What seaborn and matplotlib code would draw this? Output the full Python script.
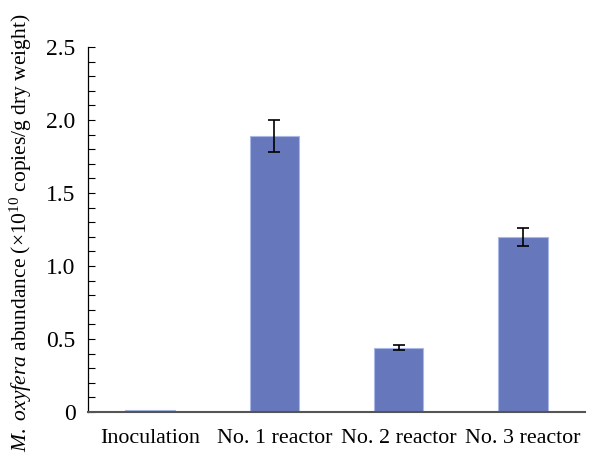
import matplotlib
matplotlib.use("Agg")
import matplotlib.pyplot as plt
import seaborn as sns
import pandas as pd
import numpy as np
from matplotlib.ticker import MultipleLocator

categories = ["Inoculation", "No. 1 reactor", "No. 2 reactor", "No. 3 reactor"]
values = [0.015, 1.89, 0.44, 1.20]
errors = [0.0, 0.11, 0.017, 0.06]
yticks = [0, 0.5, 1.0, 1.5, 2.0, 2.5]
ytick_labels = ["0", "0.5", "1.0", "1.5", "2.0", "2.5"]

sns.set_theme(style="white")
plt.rcParams["font.family"] = ["Liberation Serif", "DejaVu Serif"]
plt.rcParams["mathtext.fontset"] = "custom"
plt.rcParams["mathtext.rm"] = "Liberation Serif"
plt.rcParams["mathtext.it"] = "Liberation Serif:italic"

df = pd.DataFrame({"cat": categories, "val": values})

fig = plt.figure(figsize=(5.93, 4.61), dpi=100)
ax = fig.add_axes([88/593, 49/461, 497/593, 365/461])

sns.barplot(data=df, x="cat", y="val", ax=ax, color="#6777BC", saturation=1,
            width=0.4, errorbar=None, edgecolor="#A9B8E6", linewidth=0.8)
ax.errorbar(np.arange(len(categories))[1:], values[1:], yerr=errors[1:], fmt="none",
            ecolor="black", elinewidth=1.2, capsize=4, capthick=1.2)

ax.set_xlim(-0.5, 3.5)
ax.set_ylim(0, 2.5)
ax.set_yticks(yticks)
ax.set_yticklabels(ytick_labels)
ax.yaxis.set_minor_locator(MultipleLocator(0.1))
ax.tick_params(axis="y", which="both", direction="in", length=5, width=0.8,
               left=True, labelsize=17, pad=9, colors="black")
ax.tick_params(axis="x", length=0, labelsize=15.8, pad=12, colors="black")
ax.set_xlabel("")
ax.set_ylabel(r"$\mathit{M.\ oxyfera}$ abundance (×10$^{10}$ copies/g dry weight)",
              fontsize=15.5, color="black")
ax.yaxis.set_label_coords(-0.108, 0.49)

for s in ["top", "right"]:
    ax.spines[s].set_visible(False)
ax.spines["left"].set_color("black")
ax.spines["left"].set_linewidth(0.9)
ax.spines["bottom"].set_color("#555555")
ax.spines["bottom"].set_linewidth(1.5)

fig.savefig("out.png", dpi=100)
